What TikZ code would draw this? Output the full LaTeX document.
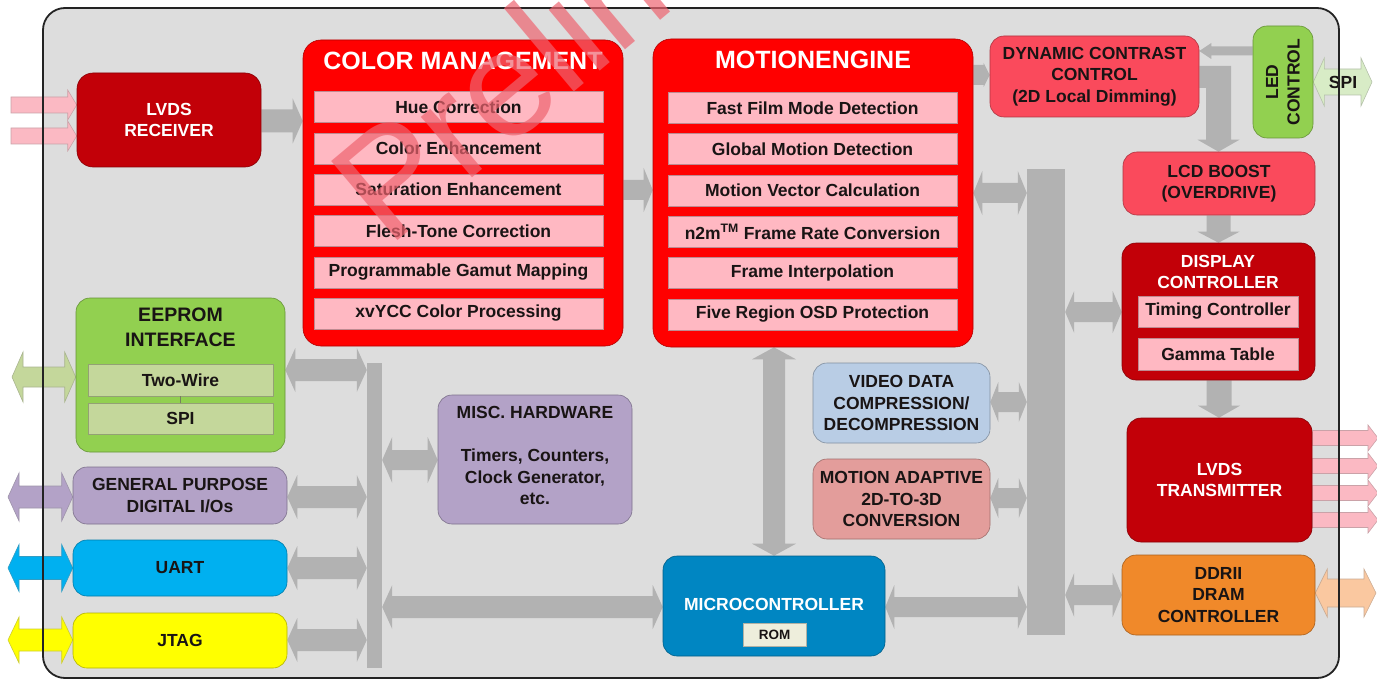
\documentclass[tikz,border=0pt]{standalone}
\usepackage{fontspec}
\setmainfont{Liberation Sans}
\usetikzlibrary{calc}
\definecolor{bg}{RGB}{221,221,221}
\definecolor{barg}{RGB}{178,178,178}
\definecolor{dred}{RGB}{194,0,8}
\definecolor{bred}{RGB}{255,0,0}
\definecolor{lpink}{RGB}{255,184,194}
\definecolor{coral}{RGB}{250,74,92}
\definecolor{lgreen}{RGB}{146,208,80}
\definecolor{olive}{RGB}{196,215,155}
\definecolor{lav}{RGB}{179,162,199}
\definecolor{lblue}{RGB}{185,205,229}
\definecolor{rose}{RGB}{227,157,155}
\definecolor{mblue}{RGB}{0,134,194}
\definecolor{cyantwo}{RGB}{0,176,240}
\definecolor{yel}{RGB}{255,255,0}
\definecolor{orng}{RGB}{240,137,42}
\definecolor{peach}{RGB}{250,200,160}
\definecolor{beige}{RGB}{238,238,220}
\definecolor{spig}{RGB}{216,236,198}
\definecolor{inpink}{RGB}{251,185,195}
\definecolor{txt}{RGB}{25,20,20}
\definecolor{wm}{RGB}{238,100,112}
\newcommand\lbl{\bfseries\fontsize{17.5}{21.5}\selectfont}
\newcommand\ttl{\bfseries\fontsize{25}{30}\selectfont}
\newcommand\eep{\bfseries\fontsize{19.5}{24.5}\selectfont}
\newcommand\romf{\bfseries\fontsize{13.5}{16}\selectfont}
\tikzset{
 blk/.style={rounded corners=14pt, draw=#1!70!black, line width=0.6pt, fill=#1, align=center, inner sep=0pt, font=\lbl, text=txt},
 sbox/.style={draw=#1!75!black, line width=0.5pt, fill=#1, inner sep=0pt, align=center, font=\lbl, text=txt},
 wh/.style 2 args={minimum width=#1pt, minimum height=#2pt},
 garrow/.style={fill=barg},
 xarrow/.style={fill=#1, draw=#1!60!gray, line width=0.6pt},
 lab/.style={font=\lbl, text=txt, align=center, inner sep=0pt},
}
\pgfdeclarelayer{back}\pgfdeclarelayer{arrows}\pgfdeclarelayer{front}
\pgfsetlayers{back,arrows,main,front}
% #1 style, #2 from, #3 to, #4 y (or x), #5 shaft half, #6 head half, #7 head length
\newcommand\HR[7]{\path[#1] let \p1=#2, \p2=#3 in (\x1,#4-#5) -- ({\x2-#7pt},#4-#5) -- ({\x2-#7pt},#4-#6) -- (\x2,#4) -- ({\x2-#7pt},#4+#6) -- ({\x2-#7pt},#4+#5) -- (\x1,#4+#5) -- cycle;}
\newcommand\HL[7]{\path[#1] let \p1=#2, \p2=#3 in (\x1,#4) -- ({\x1+#7pt},#4-#6) -- ({\x1+#7pt},#4-#5) -- (\x2,#4-#5) -- (\x2,#4+#5) -- ({\x1+#7pt},#4+#5) -- ({\x1+#7pt},#4+#6) -- cycle;}
\newcommand\HD[7]{\path[#1] let \p1=#2, \p2=#3 in (\x1,#4) -- ({\x1+#7pt},#4-#6) -- ({\x1+#7pt},#4-#5) -- ({\x2-#7pt},#4-#5) -- ({\x2-#7pt},#4-#6) -- (\x2,#4) -- ({\x2-#7pt},#4+#6) -- ({\x2-#7pt},#4+#5) -- ({\x1+#7pt},#4+#5) -- ({\x1+#7pt},#4+#6) -- cycle;}
\newcommand\VR[7]{\path[#1] let \p1=#2, \p2=#3 in (#4-#5,\y1) -- (#4+#5,\y1) -- (#4+#5,{\y2+#7pt}) -- (#4+#6,{\y2+#7pt}) -- (#4,\y2) -- (#4-#6,{\y2+#7pt}) -- (#4-#5,{\y2+#7pt}) -- cycle;}
\newcommand\VD[7]{\path[#1] let \p1=#2, \p2=#3 in (#4,\y1) -- (#4+#6,{\y1-#7pt}) -- (#4+#5,{\y1-#7pt}) -- (#4+#5,{\y2+#7pt}) -- (#4+#6,{\y2+#7pt}) -- (#4,\y2) -- (#4-#6,{\y2+#7pt}) -- (#4-#5,{\y2+#7pt}) -- (#4-#5,{\y1-#7pt}) -- (#4-#6,{\y1-#7pt}) -- cycle;}
\begin{document}
\begin{tikzpicture}[x=1pt,y=-1pt]
\useasboundingbox (0,0) rectangle (1377,682);
\begin{pgfonlayer}{back}
\fill[bg, rounded corners=22pt] (43,8) rectangle (1339,678);
\end{pgfonlayer}

% ---------- nodes ----------
\node[blk=dred, text=white, wh={184}{94}, rounded corners=16pt] (lvdsrx) at (169,120) {LVDS\\RECEIVER};

\node[blk=bred, wh={320}{306}, rounded corners=18pt] (cm) at (463,193) {};
\node[lab, text=white, font=\ttl] (cmt) at (463,61) {COLOR MANAGEMENT};
\node[sbox=lpink, wh={289}{31}] (cm1) at (458.5,107) {Hue Correction};
\node[sbox=lpink, wh={289}{31}] (cm2) at (458.5,148.5) {Color Enhancement};
\node[sbox=lpink, wh={289}{31}] (cm3) at (458.5,189.5) {Saturation Enhancement};
\node[sbox=lpink, wh={289}{31}] (cm4) at (458.5,231) {Flesh-Tone Correction};
\node[sbox=lpink, wh={289}{31}] (cm5) at (458.5,272.5) {Programmable Gamut Mapping};
\node[sbox=lpink, wh={289}{31}] (cm6) at (458.5,313.5) {xvYCC Color Processing};

\node[blk=bred, wh={320}{308}, rounded corners=18pt] (me) at (813,193) {};
\node[lab, text=white, font=\ttl] (met) at (813,60) {MOTIONENGINE};
\node[sbox=lpink, wh={289}{31}] (me1) at (812.5,108) {Fast Film Mode Detection};
\node[sbox=lpink, wh={289}{31}] (me2) at (812.5,149) {Global Motion Detection};
\node[sbox=lpink, wh={289}{31}] (me3) at (812.5,190.5) {Motion Vector Calculation};
\node[sbox=lpink, wh={289}{31}] (me4) at (812.5,232) {n2m\textsuperscript{TM} Frame Rate Conversion};
\node[sbox=lpink, wh={289}{31}] (me5) at (812.5,273) {Frame Interpolation};
\node[sbox=lpink, wh={289}{31}] (me6) at (812.5,314.5) {Five Region OSD Protection};

\node[blk=coral, wh={209}{81}] (dcc) at (1094.5,76.5) {DYNAMIC CONTRAST\\CONTROL\\(2D Local Dimming)};
\node[blk=lgreen, wh={60}{112}] (led) at (1283,82) {};
\node[lab, rotate=90] (ledt) at (1283,82) {LED\\CONTROL};
\node[blk=coral, wh={192}{63}] (lcd) at (1219,183.5) {LCD BOOST\\(OVERDRIVE)};

\node[blk=dred, wh={193}{137}] (disp) at (1218.5,311.5) {};
\node[lab, text=white] (dispt) at (1218,272) {DISPLAY\\CONTROLLER};
\node[sbox=lpink, wh={160}{31}] (tc) at (1218,311.5) {Timing Controller};
\node[sbox=lpink, wh={160}{32}] (gt) at (1218,354) {Gamma Table};

\node[blk=dred, text=white, wh={185}{124}] (lvdstx) at (1219.5,480) {LVDS\\TRANSMITTER};
\node[blk=orng, wh={193}{80}] (ddr) at (1218.5,595) {DDRII\\DRAM\\CONTROLLER};

\node[fill=barg, inner sep=0pt, wh={38}{466}] (rbus) at (1046,402) {};
\node[fill=barg, inner sep=0pt, wh={15}{305}] (lbus) at (374.5,515.5) {};

\node[blk=lblue, wh={177}{80}] (vdc) at (901.5,403) {VIDEO DATA\\COMPRESSION/\\DECOMPRESSION};
\node[blk=rose, wh={177}{80}] (m3d) at (901.5,499) {MOTION ADAPTIVE\\2D-TO-3D\\CONVERSION};

\node[blk=mblue, wh={222}{100}] (micro) at (774,606) {};
\node[lab, text=white] (microt) at (774,604) {MICROCONTROLLER};
\node[sbox=beige, wh={63}{23}, font=\romf] (rom) at (774.5,634.5) {ROM};

\node[blk=lav, wh={194}{129}] (misc) at (535,459.5) {};
\node[lab] (misct) at (535,412) {MISC. HARDWARE};
\node[lab] (miscb) at (535,477) {Timers, Counters,\\Clock Generator,\\etc.};

\node[blk=lgreen, wh={209}{154}] (eeprom) at (180.5,375) {};
\node[lab, font=\eep] (eepromt) at (180.5,327.5) {EEPROM\\INTERFACE};
\node[sbox=olive, wh={185}{32}] (tw) at (180.5,380) {Two-Wire};
\node[sbox=olive, wh={185}{31}] (espi) at (180.5,418.5) {SPI};
\draw[olive!60!black, line width=0.5pt] (tw.south) -- (espi.north);

\node[blk=lav, wh={214}{57}] (gpio) at (180,495.5) {GENERAL PURPOSE\\DIGITAL I/Os};
\node[blk=cyantwo, wh={214}{56}] (uart) at (180,568) {UART};
\node[blk=yel, wh={214}{55}] (jtag) at (180,640.5) {JTAG};

% free ends
\coordinate (inA) at (11,105);
\coordinate (inB) at (11,136);
\coordinate (outA) at (1378,438);
\coordinate (outB) at (1378,466);
\coordinate (outC) at (1378,493);
\coordinate (outD) at (1378,520);
\coordinate (spiend) at (1372,82);
\coordinate (ddrend) at (1376,593);
\coordinate (eepext) at (12,377);
\coordinate (gpioext) at (8,497);
\coordinate (uartext) at (8,568);
\coordinate (jtagext) at (8,640);

% ---------- arrows ----------
\begin{pgfonlayer}{arrows}
\HR{garrow}{(lvdsrx.east)}{(cm.west)}{121}{11.5}{22.5}{10}
\HR{garrow}{(cm.east)}{(me.west)}{190}{10}{22}{9}
\HR{garrow}{(me.east)}{(dcc.west)}{75}{10}{12}{6}
\HL{garrow}{(dcc.east)}{(led.west)}{51}{4.5}{8}{12}
\path[garrow] let \p1=(dcc.east), \p2=(lcd.north) in
  (\x1,66) -- (1231,66) -- (1231,{\y2+12pt}) -- (1239.5,{\y2+12pt}) -- (1218.5,\y2)
  -- (1197.5,{\y2+12pt}) -- (1206,{\y2+12pt}) -- (1206,88) -- (\x1,88) -- cycle;
\VR{garrow}{(lcd.south)}{(disp.north)}{1218.5}{12}{21}{11}
\VR{garrow}{(disp.south)}{(lvdstx.north)}{1219}{12.5}{21}{12}
\HD{garrow}{(me.east)}{(rbus.west)}{193}{10}{22}{9}
\HD{garrow}{(rbus.east)}{(disp.west)}{312}{10}{21}{9}
\HD{garrow}{(vdc.east)}{(rbus.west)}{402}{10}{20}{8}
\HD{garrow}{(m3d.east)}{(rbus.west)}{498}{10}{20}{8}
\HD{garrow}{(micro.east)}{(rbus.west)}{607}{10}{22}{9}
\HD{garrow}{(rbus.east)}{(ddr.west)}{595}{10}{22}{9}
\VD{garrow}{(me.south)}{(micro.north)}{774}{11}{22}{12}
\HD{garrow}{(lbus.east)}{(micro.west)}{607}{11}{22}{10}
\HD{garrow}{(lbus.east)}{(misc.west)}{460}{10}{23}{10}
\HD{garrow}{(eeprom.east)}{(lbus.west)}{370}{11}{22}{10}
\HD{garrow}{(gpio.east)}{(lbus.west)}{497}{11}{22}{10}
\HD{garrow}{(uart.east)}{(lbus.west)}{568}{11}{22}{10}
\HD{garrow}{(jtag.east)}{(lbus.west)}{640}{11}{22}{10}
% external
\HR{xarrow=inpink}{(inA)}{(lvdsrx.west)}{105}{8}{15}{9}
\HR{xarrow=inpink}{(inB)}{(lvdsrx.west)}{136}{8}{15}{9}
\HR{xarrow=inpink}{(lvdstx.east)}{(outA)}{438}{7.5}{13}{10}
\HR{xarrow=inpink}{(lvdstx.east)}{(outB)}{466}{7.5}{13}{10}
\HR{xarrow=inpink}{(lvdstx.east)}{(outC)}{493}{7.5}{13}{10}
\HR{xarrow=inpink}{(lvdstx.east)}{(outD)}{520}{7.5}{13}{10}
\HD{xarrow=spig}{(led.east)}{(spiend)}{82}{13}{24}{11}
\HD{xarrow=peach}{(ddr.east)}{(ddrend)}{593}{14}{24}{12}
\HD{xarrow=olive}{(eepext)}{(eeprom.west)}{377}{10}{25}{11}
\HD{xarrow=lav}{(gpioext)}{(gpio.west)}{497}{11}{24}{11}
\HD{xarrow=cyantwo}{(uartext)}{(uart.west)}{568}{11.5}{23.5}{11}
\HD{xarrow=yel}{(jtagext)}{(jtag.west)}{640}{11}{23}{11}
\end{pgfonlayer}
\node[lab] (spit) at (1343,82) {SPI};

\begin{pgfonlayer}{front}
\draw[line width=1.8pt, draw={rgb,255:red,35;green,35;blue,35}, rounded corners=22pt] (43,8) rectangle (1339,678);
\begin{scope}
\clip (0,0) rectangle (1377,682);
\node[rotate=40, anchor=base west, inner sep=0pt, text=wm, opacity=0.7, font=\fontsize{150}{150}\selectfont] (wmk) at (388,249) {Preliminary};
\end{scope}
\end{pgfonlayer}
\end{tikzpicture}
\end{document}
